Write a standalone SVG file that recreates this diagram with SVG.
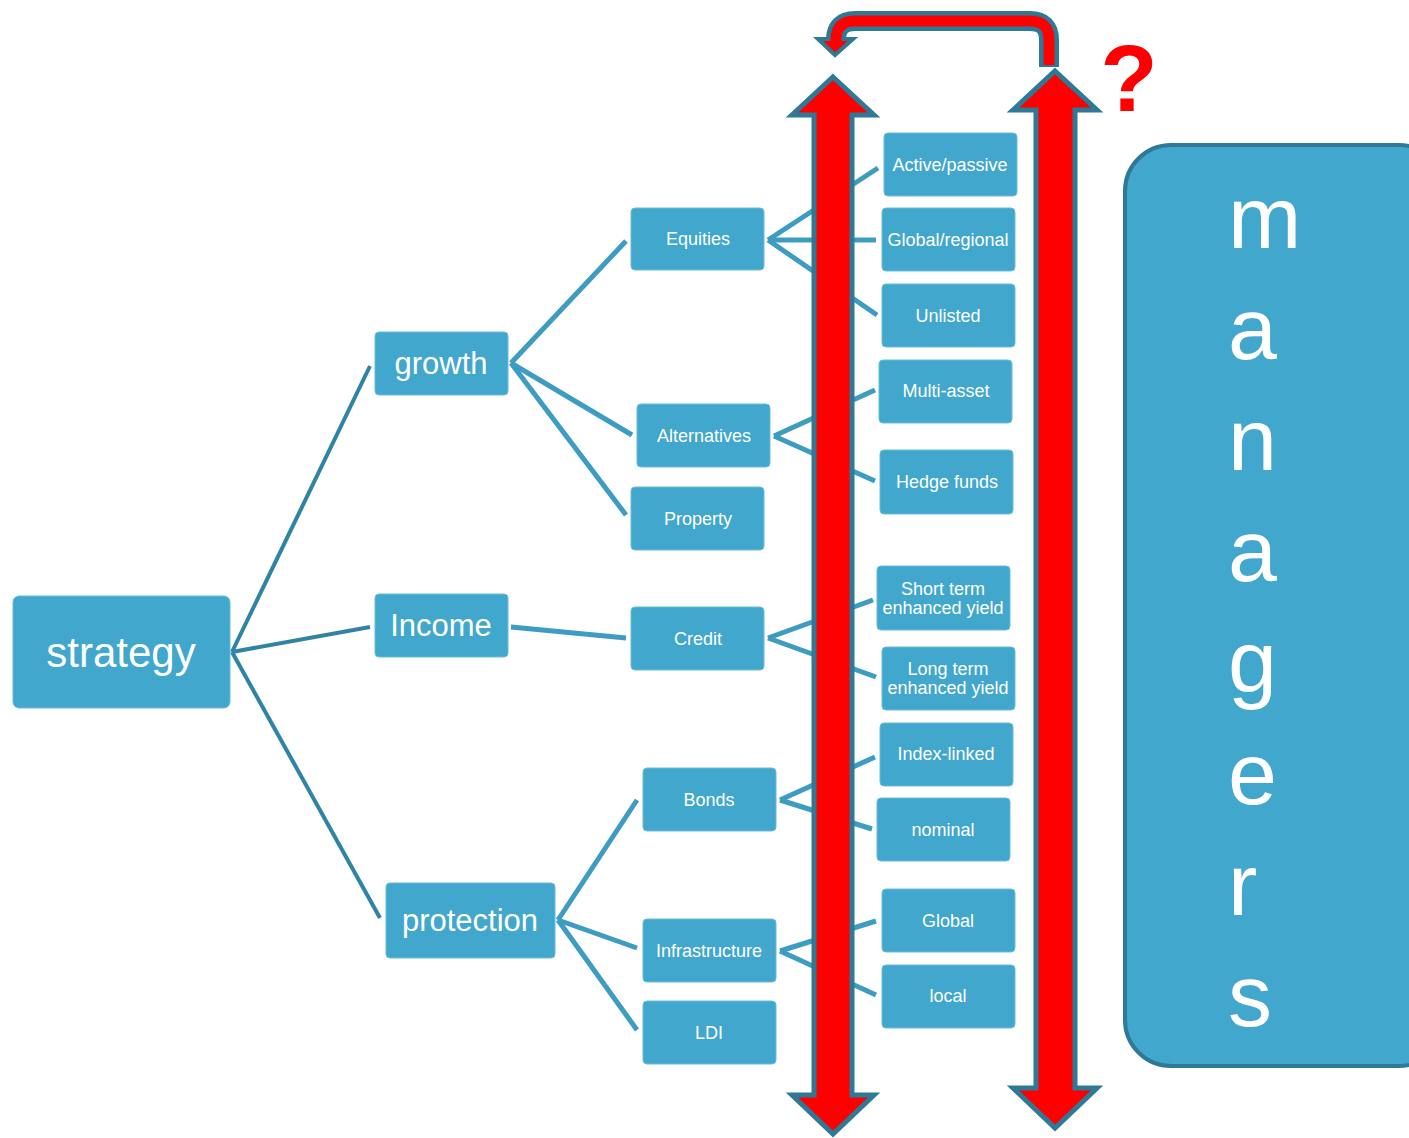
<svg xmlns="http://www.w3.org/2000/svg" width="1409" height="1138" viewBox="0 0 1409 1138">
<style>
.box{fill:#41A7CC;stroke:#6BBBDB;stroke-width:1}
.t{font-family:"Liberation Sans",Arial,sans-serif;fill:#fff;text-anchor:middle}
.s{font-size:18px}
.b{font-size:31px}
.c1{stroke:#2F84A6;stroke-width:4;fill:none}
.c2{stroke:#3D9CC2;stroke-width:5;fill:none}
.arr{fill:#FF0000;stroke:#2E7A96;stroke-width:5;stroke-linejoin:miter}
.mg{font-family:"Liberation Sans",Arial,sans-serif;fill:#fff;font-size:88px}
</style>
<rect width="1409" height="1138" fill="#fff"/>
<g id="connectors">
<line class="c1" x1="232" y1="652" x2="370" y2="366"/>
<line class="c1" x1="232" y1="652" x2="370" y2="627"/>
<line class="c1" x1="232" y1="652" x2="380" y2="918"/>
<line class="c2" x1="511" y1="363" x2="626" y2="241"/>
<line class="c2" x1="511" y1="363" x2="632" y2="435"/>
<line class="c2" x1="511" y1="363" x2="626" y2="515"/>
<line class="c2" x1="511" y1="627" x2="626" y2="638"/>
<line class="c2" x1="558" y1="920" x2="637" y2="800"/>
<line class="c2" x1="558" y1="920" x2="637" y2="948"/>
<line class="c2" x1="558" y1="920" x2="637" y2="1030"/>
<line class="c2" x1="768" y1="240" x2="878" y2="168"/>
<line class="c2" x1="768" y1="240" x2="876" y2="240"/>
<line class="c2" x1="768" y1="240" x2="877" y2="315"/>
<line class="c2" x1="774" y1="436" x2="875" y2="390"/>
<line class="c2" x1="774" y1="436" x2="875" y2="481"/>
<line class="c2" x1="768" y1="638" x2="873" y2="600"/>
<line class="c2" x1="768" y1="638" x2="876" y2="677"/>
<line class="c2" x1="780" y1="800" x2="875" y2="757"/>
<line class="c2" x1="780" y1="800" x2="872" y2="829"/>
<line class="c2" x1="780" y1="951" x2="876" y2="921"/>
<line class="c2" x1="780" y1="951" x2="876" y2="995"/>
</g>
<g id="arrow-left"><polygon class="arr" points="833,77 874,115 852,115 852,1095 874,1095 833,1134 792,1095 814,1095 814,115 792,115"/></g>
<g id="arrow-right"><polygon class="arr" points="1055,71 1097,110 1075,110 1075,1088 1097,1088 1055,1128 1013,1088 1036,1088 1036,110 1013,110"/></g>
<g id="arrow-loop">
<path d="M1049 67 L1049 40 Q1049 21 1030 21 L855 21 Q836 21 836 40 L836 42" fill="none" stroke="#2E7A96" stroke-width="20"/>
<polygon points="818,39 853,39 835,55" fill="#FF0000" stroke="#2E7A96" stroke-width="4" stroke-linejoin="miter"/>
<path d="M1049 65 L1049 40 Q1049 21 1030 21 L855 21 Q836 21 836 40 L836 46" fill="none" stroke="#FF0000" stroke-width="11"/>
</g>
<text x="1129" y="111" font-family="Liberation Sans,Arial,sans-serif" font-weight="bold" font-size="94" fill="#FF0000" text-anchor="middle">?</text>
<g id="strategy"><rect class="box" x="13" y="596" width="217" height="112" rx="6"/><text class="t" x="121" y="667" font-size="42">strategy</text></g>
<g id="growth"><rect class="box" x="375" y="332" width="133" height="63" rx="4"/><text class="t b" x="441" y="374">growth</text></g>
<g id="income"><rect class="box" x="375" y="594" width="133" height="63" rx="4"/><text class="t b" x="441" y="636">Income</text></g>
<g id="protection"><rect class="box" x="386" y="883" width="169" height="75" rx="4"/><text class="t b" x="470" y="931">protection</text></g>
<g id="equities"><rect class="box" x="631" y="208" width="133" height="62" rx="4"/><text class="t s" x="698" y="245">Equities</text></g>
<g id="alternatives"><rect class="box" x="637" y="404" width="133" height="63" rx="4"/><text class="t s" x="704" y="442">Alternatives</text></g>
<g id="property"><rect class="box" x="631" y="487" width="133" height="63" rx="4"/><text class="t s" x="698" y="525">Property</text></g>
<g id="credit"><rect class="box" x="631" y="607" width="133" height="63" rx="4"/><text class="t s" x="698" y="645">Credit</text></g>
<g id="bonds"><rect class="box" x="643" y="768" width="133" height="63" rx="4"/><text class="t s" x="709" y="806">Bonds</text></g>
<g id="infrastructure"><rect class="box" x="643" y="919" width="133" height="63" rx="4"/><text class="t s" x="709" y="957">Infrastructure</text></g>
<g id="ldi"><rect class="box" x="643" y="1001" width="133" height="63" rx="4"/><text class="t s" x="709" y="1039">LDI</text></g>
<g id="active-passive"><rect class="box" x="884" y="133" width="133" height="63" rx="4"/><text class="t s" x="950" y="171">Active/passive</text></g>
<g id="global-regional"><rect class="box" x="882" y="208" width="133" height="63" rx="4"/><text class="t s" x="948" y="246">Global/regional</text></g>
<g id="unlisted"><rect class="box" x="882" y="284" width="133" height="63" rx="4"/><text class="t s" x="948" y="322">Unlisted</text></g>
<g id="multi-asset"><rect class="box" x="879" y="360" width="133" height="63" rx="4"/><text class="t s" x="946" y="397">Multi-asset</text></g>
<g id="hedge-funds"><rect class="box" x="880" y="450" width="133" height="64" rx="4"/><text class="t s" x="947" y="488">Hedge funds</text></g>
<g id="short-term"><rect class="box" x="877" y="566" width="133" height="64" rx="4"/><text class="t s" x="943" y="595">Short term</text><text class="t s" x="943" y="614">enhanced yield</text></g>
<g id="long-term"><rect class="box" x="882" y="647" width="133" height="63" rx="4"/><text class="t s" x="948" y="675">Long term</text><text class="t s" x="948" y="694">enhanced yield</text></g>
<g id="index-linked"><rect class="box" x="880" y="723" width="133" height="63" rx="4"/><text class="t s" x="946" y="760">Index-linked</text></g>
<g id="nominal"><rect class="box" x="877" y="798" width="133" height="63" rx="4"/><text class="t s" x="943" y="836">nominal</text></g>
<g id="global"><rect class="box" x="882" y="889" width="133" height="63" rx="4"/><text class="t s" x="948" y="927">Global</text></g>
<g id="local"><rect class="box" x="882" y="965" width="133" height="63" rx="4"/><text class="t s" x="948" y="1002">local</text></g>
<g id="managers">
<rect x="1125" y="145" width="320" height="921" rx="46" fill="#41A7CC" stroke="#2E7A96" stroke-width="4"/>
<text class="mg" x="1228" y="248">m</text>
<text class="mg" x="1228" y="359">a</text>
<text class="mg" x="1228" y="470">n</text>
<text class="mg" x="1228" y="581">a</text>
<text class="mg" x="1228" y="692">g</text>
<text class="mg" x="1228" y="804">e</text>
<text class="mg" x="1228" y="915">r</text>
<text class="mg" x="1228" y="1026">s</text>
</g>
</svg>
